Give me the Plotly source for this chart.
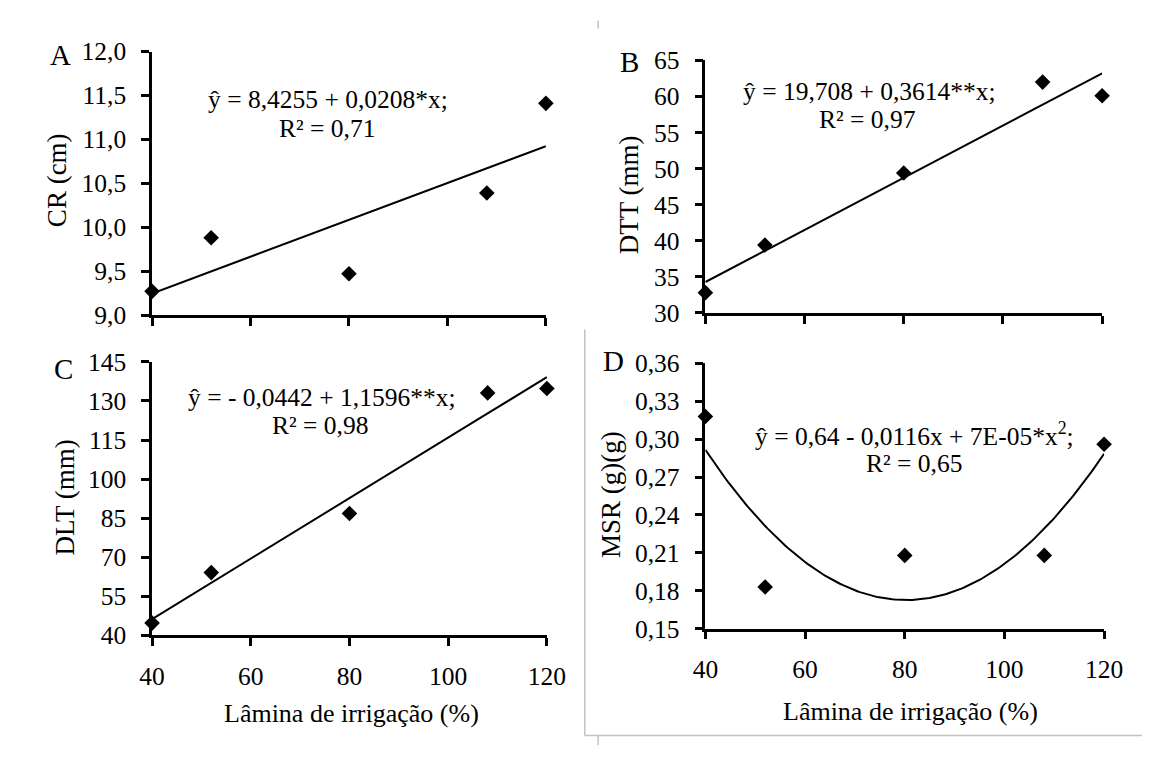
import numpy as np
import plotly.graph_objects as go

W, H = 1161, 760

# ---- data ----
lamina = [40, 52, 80, 108, 120]
cr_cm = [9.27, 9.88, 9.47, 10.39, 11.41]
dtt_mm = [32.8, 39.4, 49.4, 62.0, 60.1]
dlt_mm = [44.7, 64.1, 86.8, 133.1, 134.8]
msr_g = [0.318, 0.183, 0.208, 0.208, 0.296]

eq_a = ["ŷ = 8,4255 + 0,0208*x;", "R² = 0,71"]
eq_b = ["ŷ = 19,708 + 0,3614**x;", "R² = 0,97"]
eq_c = ["ŷ = - 0,0442 + 1,1596**x;", "R² = 0,98"]
eq_d = ["ŷ = 0,64 - 0,0116x + 7E-05*x<sup>2</sup>;", "R² = 0,65"]

xtitle = "Lâmina de irrigação (%)"
FONT = "Liberation Serif, Times New Roman, serif"

def px_x(p):
    return p / W

def px_y(p):
    return 1 - p / H

panels = [
    dict(y=cr_cm, deg=1, box=(143, 548, 39, 313), yr=[9, 12], dt=0.5, fmt=".1f",
         ytitle="CR (cm)", ytp=(46, 173), letter="A", lp=(49, 42.5),
         eq=eq_a, eqp=[(324, 89), (322.6, 119)], xlab=False),
    dict(y=dtt_mm, deg=1, box=(712, 1120, 48.3, 310.7), yr=[30, 65], dt=5, fmt="d",
         ytitle="DTT (mm)", ytp=(633.6, 188.3), letter="B", lp=(634, 50),
         eq=eq_b, eqp=[(881, 81), (878.5, 110)], xlab=False),
    dict(y=dlt_mm, deg=1, box=(143, 549, 361.7, 646), yr=[40, 145], dt=15, fmt="d",
         ytitle="DLT (mm)", ytp=(54, 503.3), letter="C", lp=(52, 369),
         eq=eq_c, eqp=[(317, 399), (316, 428.3)], xlab=True, xtp=(348, 727)),
    dict(y=msr_g, deg=2, box=(712, 1122, 363.3, 639), yr=[0.15, 0.36], dt=0.03, fmt=".2f",
         ytitle="MSR (g)(g)", ytp=(615, 500), letter="D", lp=(618, 361),
         eq=eq_d, eqp=[(927, 437.5), (926.6, 467)], xlab=True, xtp=(923, 725)),
]

fig = go.Figure()
annotations = []
lay = {}
for i, p in enumerate(panels):
    n = "" if i == 0 else str(i + 1)
    xa, ya = "x" + n, "y" + n
    x0, x1, yt, yb = p["box"]
    coefs = np.polyfit(lamina, p["y"], p["deg"])
    xs = np.linspace(min(lamina), max(lamina), 161)
    fig.add_trace(go.Scatter(x=xs, y=np.polyval(coefs, xs), mode="lines",
                             line=dict(color="black", width=2), xaxis=xa, yaxis=ya,
                             cliponaxis=False, hoverinfo="skip", showlegend=False))
    fig.add_trace(go.Scatter(x=lamina, y=p["y"], mode="markers",
                             marker=dict(symbol="diamond", size=12, color="black"),
                             xaxis=xa, yaxis=ya, cliponaxis=False, showlegend=False))
    lay["xaxis" + n] = dict(domain=[px_x(x0), px_x(x1)], range=[40, 120], dtick=20, tick0=40,
                            showline=True, linecolor="black", linewidth=2.5, ticks="outside",
                            ticklen=8, tickwidth=2.5, tickcolor="black", showgrid=False,
                            zeroline=False, showticklabels=p["xlab"], anchor=ya,
                            tickfont=dict(family=FONT, size=25.5, color="black"),
                            ticklabelstandoff=8)
    lay["yaxis" + n] = dict(domain=[px_y(yb), px_y(yt)], range=p["yr"], dtick=p["dt"],
                            tick0=p["yr"][0], tickformat=p["fmt"],
                            showline=True, linecolor="black", linewidth=2.5, ticks="outside",
                            ticklen=8, tickwidth=2.5, tickcolor="black", showgrid=False,
                            zeroline=False, anchor=xa,
                            tickfont=dict(family=FONT, size=25.5, color="black"),
                            ticklabelstandoff=10)
    annotations.append(dict(text=p["ytitle"], x=px_x(p["ytp"][0]), y=px_y(p["ytp"][1]),
                            xref="paper", yref="paper", showarrow=False, textangle=-90,
                            xanchor="center", yanchor="middle",
                            font=dict(family=FONT, size=27, color="black")))
    annotations.append(dict(text=p["letter"], x=px_x(p["lp"][0]), y=px_y(p["lp"][1]),
                            xref="paper", yref="paper", showarrow=False,
                            xanchor="center", yanchor="middle",
                            font=dict(family=FONT, size=29, color="black")))
    for line, (ex, ey) in zip(p["eq"], p["eqp"]):
        annotations.append(dict(text=line, x=px_x(ex), y=px_y(ey), xref="paper", yref="paper",
                                showarrow=False, xanchor="center", yanchor="middle",
                                font=dict(family=FONT, size=25.5, color="black")))
    if p["xlab"]:
        annotations.append(dict(text=xtitle, x=px_x(p["xtp"][0]), y=px_y(p["xtp"][1]),
                                xref="paper", yref="paper", showarrow=False,
                                xanchor="center", yanchor="middle",
                                font=dict(family=FONT, size=26, color="black")))

gray = dict(color="#c3c3c3", width=1.5)
shapes = [
    dict(type="line", xref="paper", yref="paper", x0=px_x(601.7), x1=px_x(601.7),
         y0=px_y(7), y1=px_y(15), line=gray),
    dict(type="line", xref="paper", yref="paper", x0=px_x(588), x1=px_x(588),
         y0=px_y(328), y1=px_y(750), line=gray),
    dict(type="line", xref="paper", yref="paper", x0=px_x(588), x1=1,
         y0=px_y(750), y1=px_y(750), line=gray),
    dict(type="line", xref="paper", yref="paper", x0=px_x(601.7), x1=px_x(601.7),
         y0=px_y(750), y1=0, line=gray),
]

fig.update_layout(width=W, height=H, margin=dict(l=0, r=0, t=0, b=0),
                  paper_bgcolor="white", plot_bgcolor="white", separators=",.",
                  annotations=annotations, shapes=shapes, showlegend=False,
                  font=dict(family=FONT, color="black"), **lay)
fig.write_html("out.html")
